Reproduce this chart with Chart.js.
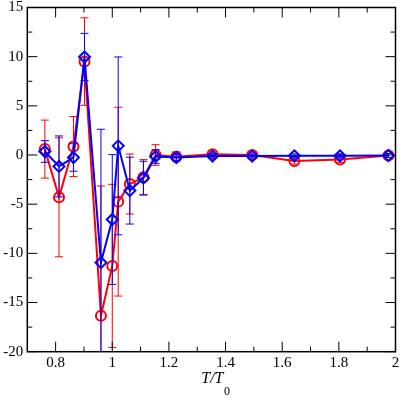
<!DOCTYPE html>
<html>
<head>
<meta charset="utf-8">
<script src="https://cdn.jsdelivr.net/npm/chart.js@4"></script>
<style>
  html, body { margin: 0; padding: 0; background: #fff; }
  #wrap { width: 403px; height: 404px; }
</style>
</head>
<body>
<div id="wrap"><canvas id="chart" width="403" height="404"></canvas></div>
<script>
// --- valores ---
const tRatio  = [0.762, 0.812, 0.863, 0.902, 0.960, 1.000, 1.021, 1.062, 1.110, 1.153, 1.226, 1.354, 1.494, 1.643, 1.804, 1.975];
const redY    = [0.60, -4.30, 0.86, 9.50, -16.35, -11.28, -4.74, -2.95, -2.27, 0.00, -0.18, 0.09, -0.01, -0.62, -0.45, -0.05];
const redErr  = [2.95, 6.05, 3.05, 4.45, 13.2, 8.3, 9.6, 3.05, 1.8, 1.05, 0.5, 0.3, 0.3, 0.3, 0.3, 0.2];
const blueY   = [0.36, -1.16, -0.25, 9.97, -10.94, -6.56, 0.93, -3.62, -2.34, -0.15, -0.25, -0.11, -0.11, -0.08, -0.08, -0.05];
const blueErr = [1.1, 3.1, 1.4, 2.4, 13.56, 6.6, 9.04, 3.4, 1.7, 0.7, 0.3, 0.2, 0.2, 0.2, 0.2, 0.2];

const xTicks = [0.8, 1, 1.2, 1.4, 1.6, 1.8, 2];
const xMinor = [0.9, 1.1, 1.3, 1.5, 1.7, 1.9];
const yTicks = [-20, -15, -10, -5, 0, 5, 10, 15];
const yMinor = [-17.5, -12.5, -7.5, -2.5, 2.5, 7.5, 12.5];

const FONT = "'Liberation Serif', 'Liberation Sans', sans-serif";

// barras de error, dibujadas justo antes de cada serie
const errorBars = {
    id: 'errorBars',
    beforeDatasetDraw(chart, args) {
        const ds = chart.data.datasets[args.index];
        if (!ds.errors) return;
        const { ctx, chartArea: a, scales: { x, y } } = chart;
        ctx.save();
        ctx.beginPath();
        ctx.rect(a.left, a.top, a.right - a.left, a.bottom - a.top);
        ctx.clip();
        ctx.strokeStyle = ds.borderColor;
        ctx.lineWidth = 1;
        ds.data.forEach((p, i) => {
            const px = x.getPixelForValue(p.x);
            const top = y.getPixelForValue(p.y + ds.errors[i]);
            const bot = y.getPixelForValue(p.y - ds.errors[i]);
            ctx.beginPath();
            ctx.moveTo(px, top); ctx.lineTo(px, bot);
            ctx.moveTo(px - 4, top); ctx.lineTo(px + 4, top);
            ctx.moveTo(px - 4, bot); ctx.lineTo(px + 4, bot);
            ctx.stroke();
        });
        ctx.restore();
    }
};

// marco, marcas hacia dentro en los cuatro lados y título del eje x
const frame = {
    id: 'frame',
    afterDraw(chart) {
        const { ctx, chartArea: a, scales: { x, y } } = chart;
        ctx.save();
        ctx.strokeStyle = '#000';
        ctx.lineWidth = 1;
        const tick = (vals, len) => {
            vals.forEach(v => {
                const px = x.getPixelForValue(v);
                ctx.beginPath();
                ctx.moveTo(px, a.bottom); ctx.lineTo(px, a.bottom - len);
                ctx.moveTo(px, a.top); ctx.lineTo(px, a.top + len);
                ctx.stroke();
            });
        };
        const tickY = (vals, len) => {
            vals.forEach(v => {
                const py = y.getPixelForValue(v);
                ctx.beginPath();
                ctx.moveTo(a.left, py); ctx.lineTo(a.left + len, py);
                ctx.moveTo(a.right, py); ctx.lineTo(a.right - len, py);
                ctx.stroke();
            });
        };
        tick(xTicks, 10); tick(xMinor, 5);
        tickY(yTicks, 10); tickY(yMinor, 5);
        ctx.lineWidth = 1.5;
        ctx.strokeRect(a.left, a.top, a.right - a.left, a.bottom - a.top);

        // T/T0
        ctx.fillStyle = '#000';
        ctx.textBaseline = 'alphabetic';
        ctx.font = 'italic 16px ' + FONT;
        const main = 'T/T';
        const w1 = ctx.measureText(main).width;
        ctx.font = '12px ' + FONT;
        const w2 = ctx.measureText('0').width;
        const cx = (a.left + a.right) / 2 + 4;
        const x0 = cx - (w1 + w2) / 2;
        ctx.font = 'italic 16px ' + FONT;
        ctx.fillText(main, x0, a.bottom + 31.5);
        ctx.font = '12px ' + FONT;
        ctx.fillText('0', x0 + w1 + 0.5, a.bottom + 43);
        ctx.restore();
    }
};

const pts = (ys) => tRatio.map((t, i) => ({ x: t, y: ys[i] }));

new Chart(document.getElementById('chart'), {
    type: 'scatter',
    data: {
        datasets: [
            {
                label: 'rojo',
                data: pts(redY),
                errors: redErr,
                showLine: true,
                borderColor: '#ff0000',
                backgroundColor: 'rgba(0,0,0,0)',
                borderWidth: 2,
                pointStyle: 'circle',
                pointRadius: 5,
                pointBorderWidth: 2,
                order: 2
            },
            {
                label: 'azul',
                data: pts(blueY),
                errors: blueErr,
                showLine: true,
                borderColor: '#0000ff',
                backgroundColor: 'rgba(0,0,0,0)',
                borderWidth: 2,
                pointStyle: 'rectRot',
                pointRadius: 5.5,
                pointBorderWidth: 2,
                order: 1
            }
        ]
    },
    options: {
        responsive: false,
        animation: false,
        layout: { padding: { left: 0, top: 6, right: 5.5, bottom: 0 } },
        plugins: { legend: { display: false }, tooltip: { enabled: false } },
        scales: {
            x: {
                type: 'linear',
                min: 0.7,
                max: 2,
                grid: { display: false, drawTicks: false },
                border: { display: false },
                afterBuildTicks: s => { s.ticks = xTicks.map(v => ({ value: v })); },
                afterFit: s => {
                    s.height = 52.3;
                    s.paddingLeft = 0; s.paddingRight = 0;
                },
                ticks: {
                    autoSkip: false,
                    maxRotation: 0,
                    padding: 2,
                    color: '#000',
                    font: { family: FONT, size: 15 },
                    callback: v => String(Math.round(v * 10) / 10)
                }
            },
            y: {
                type: 'linear',
                min: -20,
                max: 15,
                grid: { display: false, drawTicks: false },
                border: { display: false },
                afterBuildTicks: s => { s.ticks = yTicks.map(v => ({ value: v })); },
                afterFit: s => {
                    s.width = 27.3;
                    s.paddingTop = 0; s.paddingBottom = 0;
                },
                ticks: {
                    autoSkip: false,
                    padding: 4,
                    color: '#000',
                    font: { family: FONT, size: 15 },
                    callback: v => String(v)
                }
            }
        }
    },
    plugins: [errorBars, frame]
});
</script>
</body>
</html>
